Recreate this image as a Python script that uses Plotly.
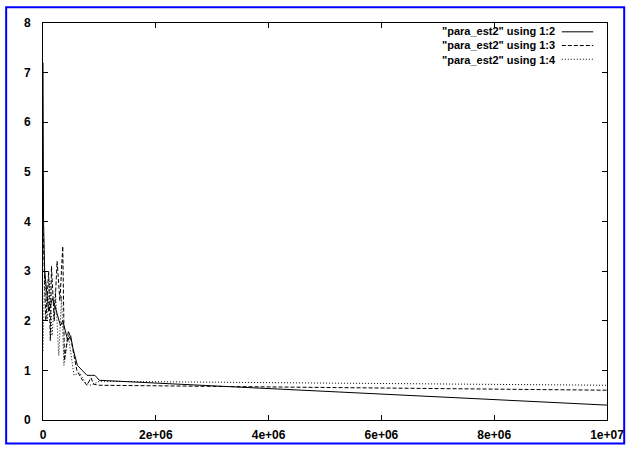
import plotly.graph_objects as go

# series 1:2 (solid)
x_s = [0, 1e4, 3e4, 6e4, 1e5, 1.3e5, 1.7e5, 2.1e5, 2.6e5, 3.1e5, 3.5e5, 3.9e5, 4.4e5, 4.9e5, 5.3e5, 6.1e5, 7e5, 7.8e5, 8.6e5, 9.2e5, 9.6e5, 1e6, 1e7]
y_s = [7.2, 4.0, 3.0, 2.6, 2.2, 2.3, 2.45, 2.3, 2.1, 1.9, 2.0, 1.8, 1.6, 1.7, 1.45, 1.1, 1.0, 0.9, 0.9, 0.9, 0.85, 0.8, 0.3]

# series 1:3 (dashed)
x_d = [0, 5e4, 1e5, 1.3e5, 1.5e5, 2e5, 2.5e5, 3e5, 3.5e5, 3.8e5, 4.5e5, 5e5, 6e5, 7e5, 7.8e5, 8.5e5, 9e5, 1e6, 1e7]
y_d = [3.9, 2.0, 3.0, 1.6, 3.1, 2.0, 3.2, 2.4, 3.5, 1.2, 1.8, 1.6, 1.0, 0.8, 0.7, 0.85, 0.72, 0.7, 0.6]

# series 1:4 (dotted)
x_p = [0, 3e4, 8e4, 1.2e5, 1.6e5, 2.2e5, 2.8e5, 3.3e5, 3.7e5, 4.5e5, 5.5e5, 6.5e5, 7.5e5, 8.5e5, 1e6, 1e7]
y_p = [1.4, 3.0, 2.0, 2.8, 1.7, 2.6, 1.3, 2.5, 1.1, 1.7, 0.9, 0.95, 0.75, 0.7, 0.78, 0.70]

labels = ['"para_est2" using 1:2', '"para_est2" using 1:3', '"para_est2" using 1:4']
dashes = ["solid", "4px,2px", "1px,2px"]

x_ticks = [0, 2e6, 4e6, 6e6, 8e6, 1e7]
x_ticktext = ["0", "2e+06", "4e+06", "6e+06", "8e+06", "1e+07"]
y_ticks = [0, 1, 2, 3, 4, 5, 6, 7, 8]

fig = go.Figure()
for xs, ys, name, d in [(x_s, y_s, labels[0], dashes[0]), (x_d, y_d, labels[1], dashes[1]), (x_p, y_p, labels[2], dashes[2])]:
    fig.add_trace(go.Scatter(x=xs, y=ys, mode="lines", name=name,
                             line=dict(color="black", width=1, dash=d), showlegend=False))

FAM = "Liberation Sans, Arial, sans-serif"
font = dict(family=FAM, size=12, color="black", weight="bold")

L, R, T, B = 43, 19, 23, 26
W, H = 636, 454
pw, ph = W - L - R, H - T - B

def px(x):
    return (x - L) / pw

def py(y):
    return (H - B - y) / ph

shapes = []
# blue frame
shapes.append(dict(type="rect", xref="paper", yref="paper",
                   x0=px(5.5), x1=px(634.5), y0=py(452), y1=py(7),
                   line=dict(color="#0000ff", width=2), layer="below"))
rows = [32, 46, 60]
annotations = [dict(xref="paper", yref="paper", x=px(566), y=py(rows[1]),
                    text="<br>".join(labels),
                    showarrow=False, xanchor="right", yanchor="middle", align="right",
                    borderpad=0, font=dict(family=FAM, size=11, color="black", weight="bold"),
                    )]
for i in range(3):
    shapes.append(dict(type="line", xref="paper", yref="paper",
                       x0=px(571), x1=px(603), y0=py(rows[i]), y1=py(rows[i]),
                       line=dict(color="black", width=1, dash=dashes[i])))

axis_common = dict(showgrid=False, zeroline=False, showline=True, linecolor="black",
                   linewidth=1, mirror="ticks", ticks="inside", ticklen=5,
                   tickcolor="black", tickwidth=1, tickfont=font)

fig.update_layout(
    width=W, height=H,
    margin=dict(l=L, r=R, t=T, b=B, pad=0),
    paper_bgcolor="white", plot_bgcolor="white",
    xaxis=dict(range=[0, 1e7], tickvals=x_ticks, ticktext=x_ticktext,
               ticklabelstandoff=4, **axis_common),
    yaxis=dict(range=[0, 8], tickvals=y_ticks, ticklabelstandoff=9, **axis_common),
    shapes=shapes, annotations=annotations,
)

fig.write_html("out.html")
